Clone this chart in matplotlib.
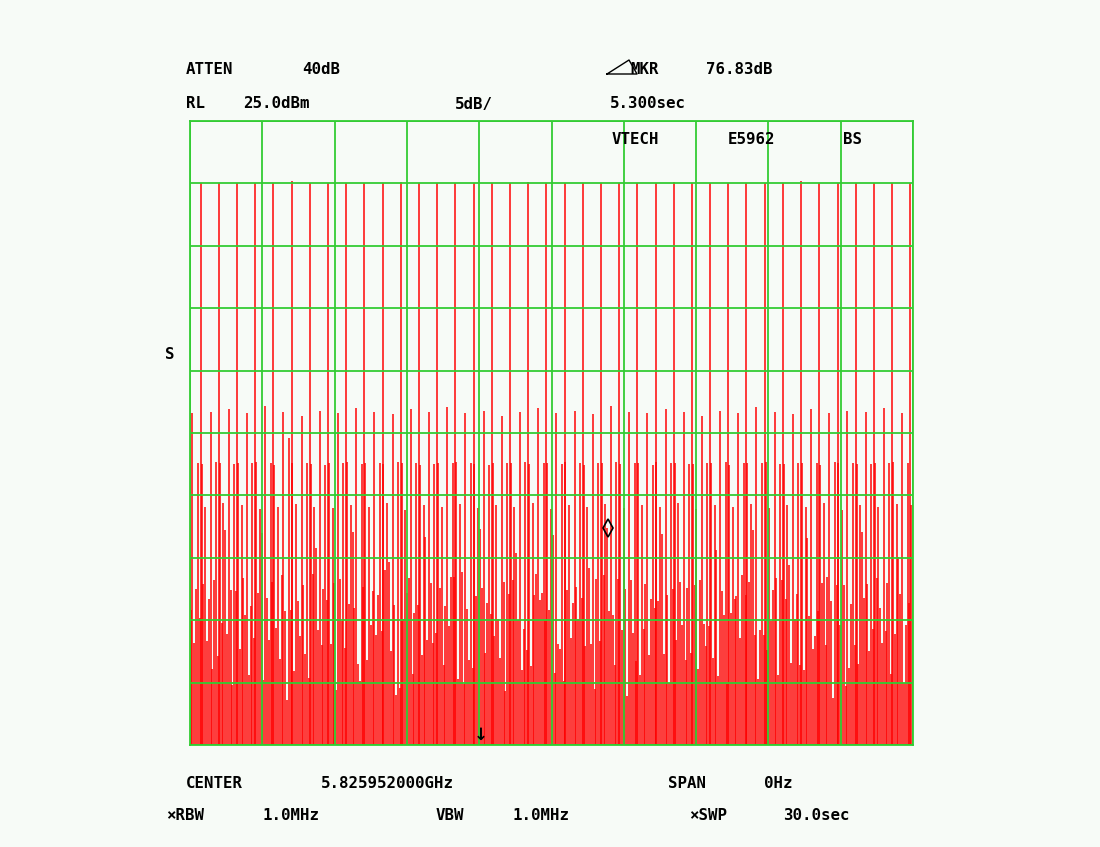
"""
Zero-span spectrum analyzer screen: burst trace at 5.825952 GHz.
"""
import numpy as np
import matplotlib
matplotlib.use("Agg")
import matplotlib.pyplot as plt
from matplotlib.lines import Line2D

# Analyzer settings
ref_level_dbm = 25.0
db_per_div = 5.0
sweep_sec = 30.0

# Tall burst spikes (time in s, level in dBm)
spike_t = [0.44, 1.20, 1.95, 2.71, 3.46, 4.22, 4.97, 5.73, 6.48, 7.24,
           7.99, 8.75, 9.50, 10.26, 11.01, 11.77, 12.52, 13.28, 14.03, 14.79,
           15.54, 16.30, 17.05, 17.81, 18.56, 19.32, 20.07, 20.83, 21.58, 22.34,
           23.09, 23.85, 24.60, 25.36, 26.11, 26.87, 27.62, 28.38, 29.13, 29.89]
spike_dbm = [20.0, 20.0, 20.0, 20.0, 20.0, 20.2, 20.0, 20.0, 20.0, 20.0,
             20.0, 20.1, 20.0, 20.0, 20.0, 20.0, 20.0, 20.0, 20.1, 20.0,
             20.0, 20.0, 20.0, 20.0, 20.0, 20.0, 20.1, 20.0, 20.0, 20.0,
             20.0, 20.0, 20.0, 20.2, 20.0, 20.0, 20.0, 20.0, 20.0, 20.0]

# Trace samples between spikes (dBm), one row per burst period
trace_dbm = [
    -14.2, 1.6, -16.8, -12.5,
    -2.4, -14.8, -2.5, -12.1, -5.9, -16.7, -13.3, 1.7, -18.9, -11.8,
    -2.3, -17.9, -2.4, -15.2, -5.6, -7.8, -16.1, 1.9, -12.6, -20.2,
    -2.5, -12.7, -2.4, -17.3, -5.8, -11.6, -14.6, 1.6, -19.4, -13.9,
    -2.4, -16.4, -2.3, -12.8, -6.1, -8.0, -19.8, 2.2, -13.2, -16.6,
    -2.4, -11.9, -2.6, -15.6, -5.9, -18.1, -11.4, 1.7, -14.3, -21.4,
    -0.4, -14.2, -2.4, -19.1, -5.7, -13.5, -16.3, 1.4, -12.2, -17.7,
    -2.4, -19.6, -2.5, -11.3, -5.9, -9.2, -15.8, 1.8, -17.0, -12.5,
    -2.6, -13.4, -2.4, -16.9, -6.0, -12.0, -20.6, 1.6, -11.7, -15.1,
    -2.4, -17.2, -2.3, -13.7, -5.8, -7.9, -14.0, 2.0, -18.5, -19.9,
    -2.5, -12.3, -2.4, -18.2, -5.9, -15.4, -12.7, 1.7, -16.2, -13.0,
    -2.4, -15.9, -2.5, -11.0, -5.6, -10.3, -17.5, 1.5, -13.8, -21.0,
    -2.3, -20.4, -2.4, -14.9, -6.2, -12.8, -11.6, 1.9, -19.3, -14.4,
    -2.4, -13.8, -2.6, -17.8, -5.8, -8.3, -16.6, 1.7, -12.0, -16.8,
    -2.5, -16.0, -2.4, -12.4, -5.9, -18.6, -13.9, 2.1, -15.5, -11.5,
    -2.4, -11.5, -2.3, -19.7, -5.7, -11.1, -20.1, 1.6, -14.1, -18.2,
    -2.4, -18.8, -2.5, -13.1, -6.0, -7.7, -12.4, 1.8, -17.6, -13.6,
    -2.6, -14.5, -2.4, -16.3, -5.8, -14.9, -18.0, 1.4, -11.9, -20.7,
    -2.4, -12.9, -2.4, -11.8, -5.9, -9.6, -15.0, 1.7, -19.0, -15.7,
    -2.3, -17.4, -2.5, -18.7, -5.6, -13.0, -11.3, 2.0, -13.4, -12.8,
    -2.4, -15.1, -2.4, -14.2, -6.1, -8.2, -19.2, 1.6, -16.9, -17.3,
    -2.5, -19.9, -2.3, -12.6, -5.8, -16.4, -13.6, 1.8, -12.3, -14.9,
    -2.4, -13.2, -2.6, -17.1, -5.9, -10.8, -16.9, 1.5, -20.5, -11.7,
    -2.4, -16.7, -2.4, -11.4, -5.7, -7.6, -14.3, 2.2, -14.6, -18.6,
    -2.3, -11.7, -2.5, -15.8, -6.0, -12.5, -21.1, 1.7, -11.8, -16.0,
    -2.4, -18.3, -2.4, -19.4, -5.8, -15.7, -12.1, 1.6, -17.8, -13.3,
    -2.6, -14.0, -2.3, -13.5, -5.9, -8.1, -17.7, 1.9, -13.0, -20.0,
    -2.4, -12.5, -2.4, -16.6, -5.6, -11.9, -15.4, 1.7, -18.2, -12.4,
    -2.5, -17.6, -2.5, -12.2, -6.1, -18.9, -11.8, 1.4, -15.3, -17.1,
    -2.4, -15.5, -2.4, -18.0, -5.8, -9.4, -19.5, 1.8, -12.7, -14.6,
    -2.3, -20.1, -2.6, -14.4, -5.9, -13.3, -13.1, 1.6, -16.4, -11.4,
    -2.4, -13.0, -2.4, -11.9, -5.7, -7.8, -16.2, 2.1, -19.7, -15.8,
    -2.4, -16.2, -2.3, -17.4, -6.0, -15.1, -12.6, 1.7, -11.6, -19.4,
    -2.5, -11.8, -2.5, -13.3, -5.8, -10.6, -18.4, 1.5, -14.9, -12.9,
    -2.4, -18.6, -2.4, -19.0, -5.9, -8.4, -14.7, 1.9, -17.3, -16.3,
    -2.4, -14.3, -2.6, -12.0, -5.6, -17.0, -11.5, 1.6, -13.5, -21.2,
    -2.3, -12.2, -2.4, -15.4, -6.2, -12.2, -20.3, 1.8, -18.8, -13.7,
    -2.4, -17.0, -2.5, -18.5, -5.8, -7.9, -13.2, 1.7, -12.1, -17.5,
    -2.5, -15.7, -2.4, -11.6, -5.9, -14.0, -16.8, 2.0, -15.9, -12.0,
    -2.4, -19.3, -2.3, -16.1, -5.7, -9.9, -12.9, 1.6, -20.0, -15.4,
    -2.4, -13.6, -5.8, -14.1,
]
sample_dt = 0.0755   # s between trace samples
sample_t0 = 0.025

# Markers
marker_t, marker_dbm = 17.34, -7.6
arrow_t = 12.07

# Screen annotations: (x px, y px, text)
labels = [
    (186, 70, "ATTEN"), (302, 70, "40dB"),
    (630, 70, "MKR"), (706, 70, "76.83dB"),
    (186, 104, "RL"), (243, 104, "25.0dBm"), (455, 104, "5dB/"),
    (610, 104, "5.300sec"),
    (612, 139, "VTECH"), (728, 139, "E5962"), (843, 139, "BS"),
    (165, 354, "S"),
    (186, 783, "CENTER"), (321, 783, "5.825952000GHz"),
    (668, 783, "SPAN"), (764, 783, "0Hz"),
    (166, 815, "\u00d7RBW"), (262, 815, "1.0MHz"),
    (436, 815, "VBW"), (512, 815, "1.0MHz"),
    (689, 815, "\u00d7SWP"), (783, 815, "30.0sec"),
]

W, H = 1100, 847
bg = "#f7fbf7"
green = "#33cc33"
red = "#ff0000"

fig = plt.figure(figsize=(W / 100, H / 100), dpi=100, facecolor=bg)
ax = fig.add_axes([190 / W, 1 - 745 / H, 723 / W, 624 / H])
ax.set_facecolor(bg)

bottom = ref_level_dbm - 10 * db_per_div
sample_t = sample_t0 + sample_dt * np.arange(len(trace_dbm))
ax.vlines(sample_t, bottom, trace_dbm, color=red, linewidth=1.2, alpha=0.9, zorder=2)
ax.vlines(spike_t, bottom, spike_dbm, color=red, linewidth=1.2, alpha=0.9, zorder=2)

ax.plot([marker_t], [marker_dbm], marker="d", markersize=9, markerfacecolor="none",
        markeredgecolor="black", markeredgewidth=1.2, zorder=4)
ax.text(arrow_t, bottom + 0.1, "\u2193", ha="center", va="bottom", fontsize=12,
        fontweight="bold", color="black", zorder=4)

ax.set_xlim(0, sweep_sec)
ax.set_ylim(bottom, ref_level_dbm)
ax.set_xticks(np.linspace(0, sweep_sec, 11))
ax.set_yticks(np.linspace(bottom, ref_level_dbm, 11))
ax.tick_params(length=0, labelbottom=False, labelleft=False)
ax.grid(True, color=green, linewidth=1.3)
ax.set_axisbelow(False)
for sp in ax.spines.values():
    sp.set_color(green)
    sp.set_linewidth(1.3)
    sp.set_zorder(3)

for x, y, s in labels:
    fig.text(x / W, 1 - y / H, s, ha="left", va="center", fontsize=11.3,
             fontweight="bold", family="DejaVu Sans Mono", color="black")

# delta-marker triangle
tri_x = [607, 629, 637, 607]
tri_y = [74, 60, 74, 74]
fig.add_artist(Line2D([x / W for x in tri_x], [1 - y / H for y in tri_y],
                      transform=fig.transFigure, color="black", linewidth=1.0))

fig.savefig("out.png", dpi=100, facecolor=bg)
